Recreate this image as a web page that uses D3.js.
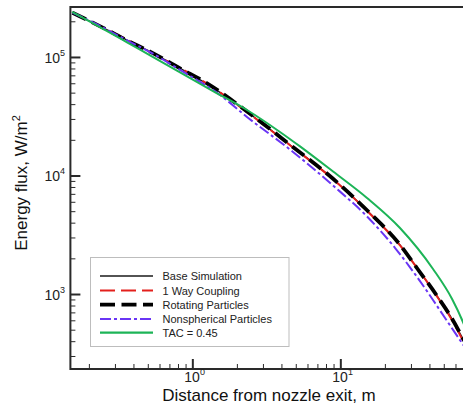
<!DOCTYPE html>
<html>
<head>
<meta charset="utf-8">
<script src="https://cdn.jsdelivr.net/npm/d3@7"></script>
<style>
  html, body { margin: 0; padding: 0; background: #fff; }
  svg { display: block; font-family: Arial, "Liberation Sans", Helvetica, sans-serif; }
</style>
</head>
<body>
<svg id="chart" width="463" height="408"></svg>
<script>
// ---- data ----
const seriesNames = ["Base Simulation", "1 Way Coupling", "Rotating Particles", "Nonspherical Particles", "TAC = 0.45"];

const xBase = [0.155, 0.25, 0.362, 0.518, 0.826, 1.257, 2.34, 4.57, 8.93, 15.15, 25.3, 33.0, 45.0, 56.9, 66.4, 70];
const yBase = [2.37e5, 1.76e5, 1.39e5, 1.11e5, 8.03e4, 5.92e4, 3.45e4, 1.81e4, 9340, 5065, 2590, 1657, 962, 615, 433, 385];

const xOneWay = [0.155, 0.25, 0.362, 0.518, 0.826, 1.257, 2.34, 4.57, 8.93, 15.15, 25.3, 33.0, 45.0, 56.9, 66.4, 70];
const yOneWay = [2.37e5, 1.77e5, 1.40e5, 1.10e5, 8.1e4, 5.95e4, 3.43e4, 1.80e4, 9300, 5030, 2570, 1660, 955, 600, 420, 372];

const xRotating = [0.155, 0.25, 0.362, 0.518, 0.826, 1.257, 2.34, 4.57, 8.93, 15.15, 25.3, 33.0, 45.0, 56.9, 66.4, 70];
const yRotating = [2.36e5, 1.76e5, 1.38e5, 1.11e5, 8.0e4, 6.0e4, 3.47e4, 1.82e4, 9380, 5090, 2600, 1650, 965, 618, 436, 388];

const xNonsph = [0.155, 0.25, 0.362, 0.518, 0.826, 1.538, 2.34, 4.79, 8.93, 15.15, 23.46, 33.0, 42.3, 52.6, 66.4, 70];
const yNonsph = [2.37e5, 1.77e5, 1.38e5, 1.10e5, 7.77e4, 4.78e4, 3.12e4, 1.58e4, 8230, 4510, 2444, 1391, 890, 592, 386, 350];

const xTAC = [0.154, 0.362, 0.518, 0.826, 1.38, 2.34, 3.91, 5.34, 8.93, 15.15, 25.3, 42.3, 56.9, 67.4, 70];
const yTAC = [2.4e5, 1.33e5, 1.03e5, 7.4e4, 5.16e4, 3.57e4, 2.33e4, 1.76e4, 1.08e4, 6460, 3606, 1626, 907, 580, 516];

const xMajorTicks = [1, 10];
const xMinorTicks = [0.2, 0.3, 0.4, 0.5, 0.6, 0.7, 0.8, 0.9, 2, 3, 4, 5, 6, 7, 8, 9, 20, 30, 40, 50, 60];
const xTickLabels = [["10", "0"], ["10", "1"]];
const yMajorTicks = [1e3, 1e4, 1e5];
const yMinorTicks = [300, 400, 500, 600, 700, 800, 900, 2e3, 3e3, 4e3, 5e3, 6e3, 7e3, 8e3, 9e3, 2e4, 3e4, 4e4, 5e4, 6e4, 7e4, 8e4, 9e4, 2e5];
const yTickLabels = [["10", "3"], ["10", "4"], ["10", "5"]];

// ---- layout ----
const L = 70.4, R = 465.4, T = 7, B = 369;
const svg = d3.select("#chart");

const x = d3.scaleLog().domain([0.15, 70]).range([L, R]);
const y = d3.scaleLog().domain([233, 2.64e5]).range([B, T]);

svg.append("defs").append("clipPath").attr("id", "clip")
  .append("rect").attr("x", L).attr("y", T).attr("width", R - L).attr("height", B - T);

// ---- series ----
const styles = [
  { color: "#1a1a1a", width: 1.4, dash: null },
  { color: "#e3201c", width: 2, dash: "15,6" },
  { color: "#000000", width: 3.8, dash: "15,6.5" },
  { color: "#6a35f5", width: 2, dash: "11,3,3,3" },
  { color: "#1db457", width: 2, dash: null }
];
const series = [
  { xs: xBase, ys: yBase },
  { xs: xOneWay, ys: yOneWay },
  { xs: xRotating, ys: yRotating },
  { xs: xNonsph, ys: yNonsph },
  { xs: xTAC, ys: yTAC }
];

const line = d3.line().x(d => x(d[0])).y(d => y(d[1])).curve(d3.curveMonotoneX);
const gLines = svg.append("g").attr("clip-path", "url(#clip)");
series.forEach((s, i) => {
  const pts = s.xs.map((v, j) => [v, s.ys[j]]);
  gLines.append("path").datum(pts)
    .attr("d", line)
    .attr("fill", "none")
    .attr("stroke", styles[i].color)
    .attr("stroke-width", styles[i].width)
    .attr("stroke-dasharray", styles[i].dash)
    .attr("stroke-linejoin", "round");
});

// ---- axes ----
const axisColor = "#2a2a2a";
function styleAxis(g, w) {
  g.select(".domain").remove();
  g.selectAll(".tick line").attr("stroke", axisColor).attr("stroke-width", w);
  g.selectAll(".tick text").remove();
}
svg.append("g").attr("transform", `translate(0,${B})`)
  .call(d3.axisBottom(x).tickValues(xMinorTicks).tickSize(-5).tickFormat(""))
  .call(g => styleAxis(g, 1));
svg.append("g").attr("transform", `translate(0,${B})`)
  .call(d3.axisBottom(x).tickValues(xMajorTicks).tickSize(-10).tickFormat(""))
  .call(g => styleAxis(g, 2));
svg.append("g").attr("transform", `translate(${L},0)`)
  .call(d3.axisLeft(y).tickValues(yMinorTicks).tickSize(-5).tickFormat(""))
  .call(g => styleAxis(g, 1));
svg.append("g").attr("transform", `translate(${L},0)`)
  .call(d3.axisLeft(y).tickValues(yMajorTicks).tickSize(-10).tickFormat(""))
  .call(g => styleAxis(g, 2));

// frame
svg.append("path")
  .attr("d", `M${R + 10},${T} H${L} V${B} H${R + 10}`)
  .attr("fill", "none").attr("stroke", axisColor).attr("stroke-width", 2);

// tick labels with superscripts
xMajorTicks.forEach((v, i) => {
  const t = svg.append("text").attr("x", x(v) - 8).attr("y", 382)
    .attr("font-size", 14).attr("fill", "#222");
  t.append("tspan").text(xTickLabels[i][0]);
  t.append("tspan").attr("font-size", 9).attr("dy", -7).text(xTickLabels[i][1]);
});
yMajorTicks.forEach((v, i) => {
  const t = svg.append("text").attr("x", 65).attr("y", y(v) + 6)
    .attr("text-anchor", "end").attr("font-size", 14).attr("fill", "#222");
  t.append("tspan").text(yTickLabels[i][0]);
  t.append("tspan").attr("font-size", 9).attr("dy", -7).text(yTickLabels[i][1]);
});

// axis titles
svg.append("text").attr("x", 269).attr("y", 401).attr("text-anchor", "middle")
  .attr("font-size", 17).attr("fill", "#111").text("Distance from nozzle exit, m");
const yt = svg.append("text").attr("transform", "translate(27,183) rotate(-90)")
  .attr("text-anchor", "middle").attr("font-size", 17).attr("fill", "#111");
yt.append("tspan").text("Energy flux, W/m");
yt.append("tspan").attr("font-size", 11).attr("dy", -7).text("2");

// ---- legend ----
const lg = svg.append("g");
lg.append("rect").attr("x", 90.5).attr("y", 257.5).attr("width", 198.5).attr("height", 89)
  .attr("fill", "#fff").attr("stroke", "#bdbdbd").attr("stroke-width", 1);
const rowY = [276, 290.5, 304.7, 319, 332.7];
seriesNames.forEach((name, i) => {
  lg.append("line").attr("x1", 100).attr("x2", 153).attr("y1", rowY[i]).attr("y2", rowY[i])
    .attr("stroke", styles[i].color)
    .attr("stroke-width", i === 2 ? 3.8 : (i === 0 ? 1.5 : 2.2))
    .attr("stroke-dasharray", styles[i].dash);
  lg.append("text").attr("x", 162.5).attr("y", rowY[i] + 4)
    .attr("font-size", 11).attr("fill", "#222").text(name);
});
</script>
</body>
</html>
